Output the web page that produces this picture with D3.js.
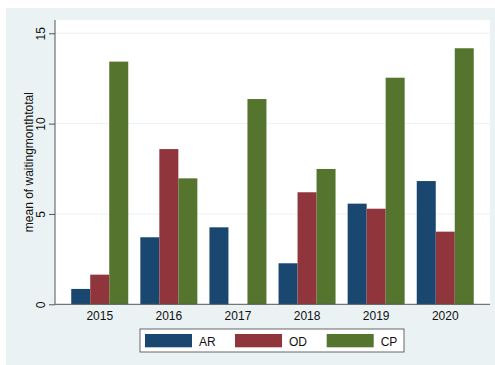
<!DOCTYPE html>
<html>
<head>
<meta charset="utf-8">
<script src="https://cdn.jsdelivr.net/npm/d3@7"></script>
<style>
  html, body { margin: 0; padding: 0; background: #ffffff; }
  svg { display: block; }
  text { font-family: "Liberation Sans", Arial, sans-serif; fill: #111; }
</style>
</head>
<body>
<svg id="chart" width="495" height="365"></svg>
<script>
// Mean waiting months by year and group
const years = ["2015", "2016", "2017", "2018", "2019", "2020"];
const seriesNames = ["AR", "OD", "CP"];
const arValues = [0.85, 3.71, 4.26, 2.27, 5.57, 6.82];
const odValues = [1.64, 8.59, 0, 6.2, 5.29, 4.02];
const cpValues = [13.43, 6.97, 11.36, 7.49, 12.54, 14.17];
const yTicks = [0, 5, 10, 15];
const colors = ["#1a476f", "#90353b", "#55752f"];

const seriesValues = [arValues, odValues, cpValues];
const rows = years.map((y, i) => ({
  year: y,
  vals: seriesNames.map((s, j) => ({ key: s, value: seriesValues[j][i] }))
}));

const svg = d3.select("#chart");
const W = 495, H = 365;

// graph region background
svg.append("rect")
  .attr("x", 6).attr("y", 8).attr("width", W - 6).attr("height", H - 8)
  .attr("fill", "#eaf2f3");

const plot = { left: 55, right: 490, top: 20, bottom: 304.3 };

// plot region
svg.append("rect")
  .attr("x", plot.left).attr("y", plot.top)
  .attr("width", plot.right - plot.left).attr("height", plot.bottom - plot.top)
  .attr("fill", "#ffffff");

const y = d3.scaleLinear().domain([0, 15]).range([plot.bottom, plot.bottom - 15 * 18.07]);

const x0 = d3.scaleBand().domain(years)
  .range([plot.left, plot.right])
  .paddingInner(0.175).paddingOuter(0.235);
const x1 = d3.scaleBand().domain(seriesNames).range([0, x0.bandwidth()]).padding(0);
const color = d3.scaleOrdinal().domain(seriesNames).range(colors);

// gridlines
svg.append("g").selectAll("line")
  .data(yTicks.filter(t => t > 0))
  .join("line")
  .attr("x1", plot.left).attr("x2", plot.right)
  .attr("y1", d => y(d)).attr("y2", d => y(d))
  .attr("stroke", "#eaf2f3").attr("stroke-width", 1);

// bars
svg.append("g").selectAll("g")
  .data(rows)
  .join("g")
  .attr("transform", d => `translate(${x0(d.year)},0)`)
  .selectAll("rect")
  .data(d => d.vals)
  .join("rect")
  .attr("x", d => x1(d.key))
  .attr("width", x1.bandwidth())
  .attr("y", d => y(d.value))
  .attr("height", d => y(0) - y(d.value))
  .attr("fill", d => color(d.key));

// y axis
const yAxis = svg.append("g")
  .attr("transform", `translate(${plot.left},0)`)
  .call(d3.axisLeft(y).tickValues(yTicks).tickSize(6).tickPadding(4).tickFormat(d3.format("d")));
yAxis.select(".domain").attr("d", `M0,${plot.top}V${plot.bottom}`).attr("stroke", "#555");
yAxis.selectAll(".tick line").attr("stroke", "#555");
yAxis.selectAll(".tick text")
  .attr("font-size", 12)
  .attr("x", 0).attr("dy", 0)
  .attr("text-anchor", "middle")
  .attr("transform", "translate(-10,0) rotate(-90)")
  .style("font-family", "'Liberation Sans', Arial, sans-serif")
  .attr("fill", "#111");

// x axis
const xAxis = svg.append("g")
  .attr("transform", `translate(0,${plot.bottom})`)
  .call(d3.axisBottom(x0).tickSize(0).tickPadding(7));
xAxis.select(".domain").attr("d", `M${plot.left},0H${plot.right}`).attr("stroke", "#555");
xAxis.selectAll(".tick text")
  .attr("font-size", 12)
  .style("font-family", "'Liberation Sans', Arial, sans-serif")
  .attr("fill", "#111");

// y axis title
svg.append("text")
  .attr("transform", `translate(33,${(plot.top + plot.bottom) / 2}) rotate(-90)`)
  .attr("text-anchor", "middle")
  .attr("font-size", 12)
  .text("mean of waitingmonthtotal");

// legend
const legend = svg.append("g");
legend.append("rect")
  .attr("x", 140).attr("y", 329).attr("width", 264).attr("height", 23)
  .attr("fill", "#ffffff").attr("stroke", "#444").attr("stroke-width", 0.8);
const legendX = [145, 235, 326.7];
const items = legend.selectAll("g.item")
  .data(seriesNames)
  .join("g")
  .attr("class", "item")
  .attr("transform", (d, i) => `translate(${legendX[i]},334)`);
items.append("rect")
  .attr("width", 47).attr("height", 13.3)
  .attr("fill", d => color(d));
items.append("text")
  .attr("x", 54).attr("y", 11.5)
  .attr("font-size", 12)
  .text(d => d);
</script>
</body>
</html>
